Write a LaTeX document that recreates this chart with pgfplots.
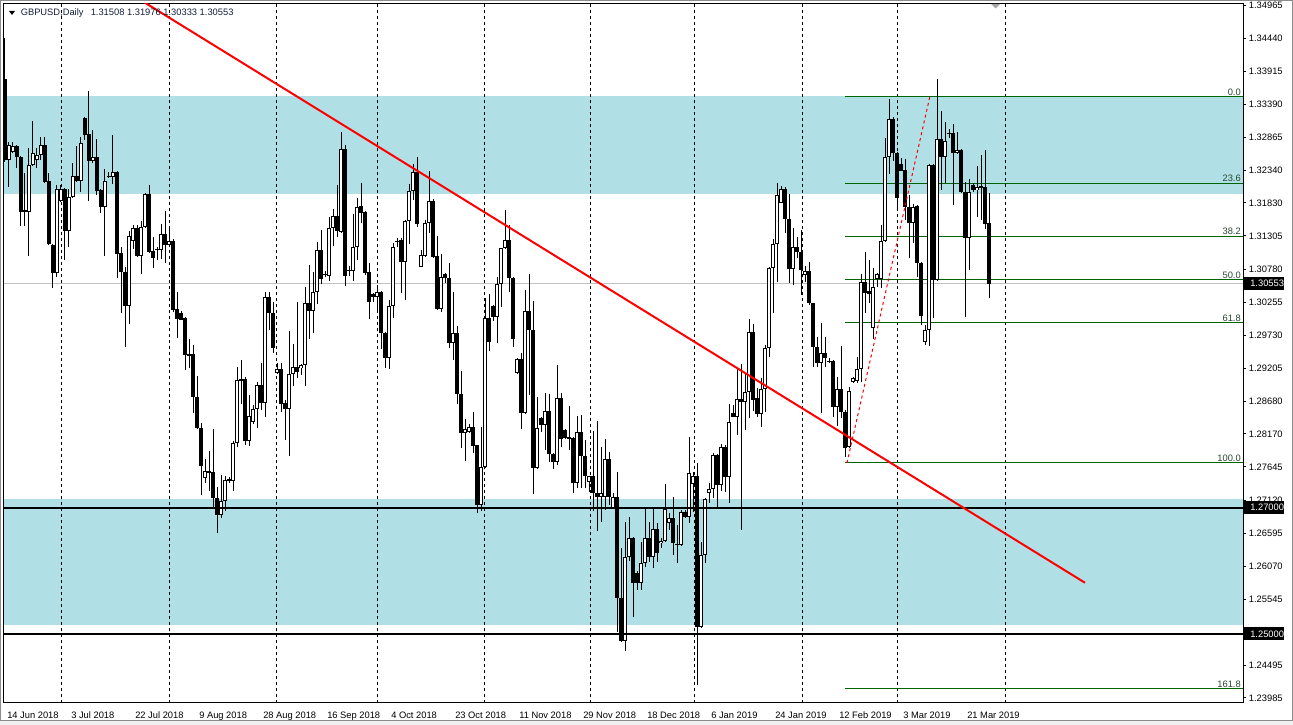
\documentclass[border=0pt]{standalone}
\usepackage{pgfplots}
\pgfplotsset{compat=1.18}
\usepackage{pgfplotstable}
\usepackage{fontspec}
\setmainfont{Liberation Sans}

\definecolor{band}{RGB}{176,224,230}
\definecolor{fibgreen}{RGB}{0,100,0}
\definecolor{fibtext}{RGB}{40,70,50}
\definecolor{titletext}{RGB}{20,30,60}
\definecolor{bidgray}{RGB}{192,192,192}

% daily bars, GBPUSD (bar index, open, high, low, close)
\pgfplotstableread{
i o h l c
0 1.3379 1.3444 1.3248 1.3251
1 1.3251 1.3279 1.3208 1.3275
2 1.3264 1.3279 1.3262 1.3273
3 1.3273 1.3275 1.3238 1.3256
4 1.3256 1.3258 1.3146 1.3169
5 1.3172 1.3230 1.3146 1.3169
6 1.3169 1.3270 1.3099 1.3243
7 1.3243 1.3313 1.3241 1.3262
8 1.3251 1.3270 1.3238 1.3259
9 1.3259 1.3287 1.3251 1.3275
10 1.3275 1.3287 1.3214 1.3216
11 1.3218 1.3230 1.3116 1.3118
12 1.3117 1.3118 1.3048 1.3072
13 1.3072 1.3211 1.3066 1.3205
14 1.3186 1.3211 1.3184 1.3205
15 1.3205 1.3207 1.3093 1.3138
16 1.3138 1.3205 1.3113 1.3192
17 1.3192 1.3246 1.3190 1.3226
18 1.3226 1.3273 1.3216 1.3218
19 1.3218 1.3287 1.3200 1.3278
20 1.3317 1.3319 1.3283 1.3290
21 1.3292 1.3360 1.3186 1.3249
22 1.3249 1.3298 1.3247 1.3256
23 1.3256 1.3284 1.3195 1.3202
24 1.3203 1.3205 1.3167 1.3176
25 1.3176 1.3237 1.3099 1.3218
26 1.3226 1.3232 1.3222 1.3225
27 1.3224 1.3290 1.3213 1.3232
28 1.3232 1.3234 1.3064 1.3102
29 1.3104 1.3113 1.3008 1.3073
30 1.3073 1.3081 1.2955 1.3020
31 1.3020 1.3138 1.2991 1.3130
32 1.3123 1.3148 1.3110 1.3143
33 1.3143 1.3148 1.3097 1.3099
34 1.3099 1.3154 1.3070 1.3145
35 1.3145 1.3199 1.3143 1.3197
36 1.3197 1.3211 1.3103 1.3105
37 1.3107 1.3129 1.3080 1.3096
38 1.3109 1.3113 1.3093 1.3110
39 1.3108 1.3149 1.3094 1.3134
40 1.3134 1.3170 1.3088 1.3116
41 1.3116 1.3146 1.3114 1.3123
42 1.3123 1.3126 1.3010 1.3013
43 1.3015 1.3042 1.2969 1.2999
44 1.3008 1.3011 1.2997 1.2998
45 1.3001 1.3003 1.2918 1.2942
46 1.2942 1.2967 1.2921 1.2943
47 1.2944 1.2958 1.2850 1.2875
48 1.2875 1.2909 1.2824 1.2826
49 1.2826 1.2834 1.2720 1.2766
50 1.2747 1.2777 1.2739 1.2758
51 1.2758 1.2790 1.2726 1.2756
52 1.2756 1.2825 1.2700 1.2715
53 1.2715 1.2733 1.2660 1.2689
54 1.2689 1.2752 1.2684 1.2711
55 1.2711 1.2750 1.2695 1.2744
56 1.2744 1.2749 1.2739 1.2745
57 1.2742 1.2805 1.2726 1.2803
58 1.2803 1.2923 1.2796 1.2902
59 1.2904 1.2934 1.2864 1.2901
60 1.2904 1.2907 1.2799 1.2806
61 1.2806 1.2879 1.2798 1.2845
62 1.2836 1.2863 1.2833 1.2856
63 1.2856 1.2899 1.2826 1.2894
64 1.2894 1.2929 1.2855 1.2866
65 1.2866 1.3042 1.2844 1.3034
66 1.3034 1.3042 1.2982 1.3008
67 1.3008 1.3026 1.2945 1.2953
68 1.2913 1.2929 1.2912 1.2920
69 1.2920 1.2929 1.2852 1.2864
70 1.2866 1.2871 1.2807 1.2856
71 1.2856 1.2980 1.2782 1.2912
72 1.2912 1.2959 1.2893 1.2923
73 1.2923 1.3026 1.2905 1.2915
74 1.2921 1.2928 1.2910 1.2926
75 1.2926 1.3050 1.2893 1.3024
76 1.3024 1.3085 1.2967 1.3012
77 1.3012 1.3073 1.2977 1.3042
78 1.3042 1.3121 1.3023 1.3108
79 1.3108 1.3140 1.3054 1.3062
80 1.3070 1.3075 1.3066 1.3069
81 1.3067 1.3161 1.3059 1.3143
82 1.3143 1.3173 1.3115 1.3162
83 1.3162 1.3211 1.3129 1.3138
84 1.3137 1.3295 1.3135 1.3268
85 1.3268 1.3275 1.3051 1.3067
86 1.3075 1.3083 1.3067 1.3077
87 1.3075 1.3165 1.3059 1.3113
88 1.3113 1.3191 1.3093 1.3176
89 1.3178 1.3215 1.3151 1.3167
90 1.3169 1.3170 1.3069 1.3072
91 1.3073 1.3088 1.2999 1.3026
92 1.3039 1.3040 1.3026 1.3034
93 1.3034 1.3053 1.3008 1.3042
94 1.3042 1.3043 1.2951 1.2977
95 1.2977 1.2978 1.2921 1.2937
96 1.2937 1.3029 1.2920 1.3020
97 1.3020 1.3119 1.3001 1.3113
98 1.3122 1.3127 1.3113 1.3123
99 1.3124 1.3127 1.3040 1.3089
100 1.3089 1.3156 1.3029 1.3154
101 1.3154 1.3213 1.3118 1.3202
102 1.3202 1.3245 1.3188 1.3232
103 1.3232 1.3256 1.3145 1.3149
104 1.3081 1.3108 1.3081 1.3100
105 1.3099 1.3156 1.3097 1.3151
106 1.3151 1.3233 1.3135 1.3186
107 1.3186 1.3189 1.3096 1.3097
108 1.3099 1.3130 1.3013 1.3015
109 1.3015 1.3102 1.3010 1.3066
110 1.3070 1.3072 1.3056 1.3064
111 1.3064 1.3088 1.2953 1.2961
112 1.2961 1.3042 1.2934 1.2977
113 1.2977 1.2988 1.2864 1.2880
114 1.2881 1.2917 1.2795 1.2818
115 1.2818 1.2841 1.2774 1.2825
116 1.2820 1.2833 1.2818 1.2828
117 1.2828 1.2852 1.2787 1.2798
118 1.2799 1.2800 1.2692 1.2704
119 1.2704 1.2828 1.2695 1.2765
120 1.2765 1.3032 1.2763 1.3001
121 1.3001 1.3039 1.2948 1.2963
122 1.3020 1.3021 1.2996 1.3002
123 1.3002 1.3066 1.2961 1.3054
124 1.3054 1.3112 1.3018 1.3111
125 1.3111 1.3172 1.3110 1.3124
126 1.3124 1.3148 1.3042 1.3064
127 1.3064 1.3066 1.2955 1.2967
128 1.2913 1.2937 1.2912 1.2936
129 1.2936 1.2945 1.2825 1.2850
130 1.2850 1.3045 1.2849 1.3012
131 1.3012 1.3070 1.2879 1.2982
132 1.2982 1.3027 1.2722 1.2763
133 1.2763 1.2875 1.2762 1.2826
134 1.2842 1.2843 1.2820 1.2831
135 1.2831 1.2882 1.2791 1.2853
136 1.2853 1.2880 1.2772 1.2785
137 1.2785 1.2786 1.2761 1.2772
138 1.2772 1.2926 1.2768 1.2874
139 1.2874 1.2882 1.2796 1.2809
140 1.2823 1.2824 1.2809 1.2810
141 1.2810 1.2861 1.2791 1.2811
142 1.2811 1.2812 1.2723 1.2739
143 1.2739 1.2845 1.2731 1.2820
144 1.2820 1.2847 1.2731 1.2782
145 1.2782 1.2807 1.2731 1.2750
146 1.2741 1.2751 1.2725 1.2750
147 1.2750 1.2822 1.2695 1.2723
148 1.2723 1.2837 1.2663 1.2717
149 1.2717 1.2796 1.2677 1.2723
150 1.2717 1.2809 1.2696 1.2777
151 1.2777 1.2788 1.2704 1.2717
152 1.2700 1.2723 1.2698 1.2717
153 1.2717 1.2756 1.2503 1.2557
154 1.2557 1.2636 1.2487 1.2489
155 1.2489 1.2677 1.2473 1.2622
156 1.2622 1.2685 1.2616 1.2652
157 1.2652 1.2653 1.2527 1.2581
158 1.2597 1.2600 1.2570 1.2581
159 1.2581 1.2646 1.2570 1.2612
160 1.2612 1.2700 1.2606 1.2652
161 1.2652 1.2677 1.2614 1.2622
162 1.2622 1.2701 1.2604 1.2666
163 1.2666 1.2676 1.2614 1.2628
164 1.2644 1.2652 1.2636 1.2647
165 1.2647 1.2738 1.2645 1.2698
166 1.2676 1.2692 1.2665 1.2684
167 1.2684 1.2717 1.2625 1.2644
168 1.2643 1.2673 1.2612 1.2641
169 1.2641 1.2696 1.2639 1.2693
170 1.2693 1.2696 1.2684 1.2685
171 1.2685 1.2812 1.2676 1.2755
172 1.2738 1.2756 1.2693 1.2750
173 1.2750 1.2771 1.2419 1.2511
174 1.2511 1.2646 1.2509 1.2625
175 1.2625 1.2715 1.2612 1.2714
176 1.2723 1.2739 1.2707 1.2730
177 1.2730 1.2787 1.2715 1.2784
178 1.2784 1.2785 1.2701 1.2736
179 1.2736 1.2801 1.2726 1.2796
180 1.2796 1.2799 1.2725 1.2749
181 1.2749 1.2864 1.2707 1.2836
182 1.2850 1.2863 1.2844 1.2844
183 1.2844 1.2920 1.2815 1.2872
184 1.2872 1.2928 1.2665 1.2867
185 1.2867 1.2913 1.2823 1.2883
186 1.2883 1.2999 1.2842 1.2978
187 1.2978 1.2991 1.2853 1.2871
188 1.2874 1.2890 1.2844 1.2848
189 1.2848 1.2905 1.2828 1.2888
190 1.2888 1.2958 1.2852 1.2953
191 1.2953 1.3081 1.2939 1.3080
192 1.3080 1.3126 1.3008 1.3118
193 1.3118 1.3215 1.3058 1.3195
194 1.3183 1.3210 1.3182 1.3205
195 1.3205 1.3208 1.3135 1.3157
196 1.3157 1.3197 1.3056 1.3078
197 1.3078 1.3143 1.3053 1.3113
198 1.3113 1.3129 1.3096 1.3105
199 1.3105 1.3140 1.3037 1.3077
200 1.3069 1.3083 1.3058 1.3075
201 1.3075 1.3089 1.3022 1.3024
202 1.3024 1.3025 1.2923 1.2955
203 1.2955 1.2970 1.2923 1.2929
204 1.2929 1.2993 1.2850 1.2945
205 1.2945 1.2970 1.2923 1.2937
206 1.2932 1.2937 1.2929 1.2933
207 1.2932 1.2934 1.2844 1.2860
208 1.2860 1.2907 1.2829 1.2888
209 1.2888 1.2956 1.2842 1.2852
210 1.2852 1.2855 1.2780 1.2795
211 1.2796 1.2891 1.2795 1.2885
212 1.2900 1.2907 1.2897 1.2905
213 1.2900 1.2939 1.2897 1.2920
214 1.2920 1.3070 1.2899 1.3058
215 1.3058 1.3105 1.3008 1.3040
216 1.3043 1.3093 1.3024 1.3039
217 1.2985 1.3080 1.2967 1.3050
218 1.3062 1.3072 1.3050 1.3070
219 1.3062 1.3148 1.3048 1.3123
220 1.3123 1.3286 1.3121 1.3256
221 1.3256 1.3348 1.3229 1.3316
222 1.3316 1.3319 1.3249 1.3262
223 1.3262 1.3264 1.3170 1.3191
224 1.3245 1.3254 1.3233 1.3233
225 1.3235 1.3252 1.3156 1.3176
226 1.3176 1.3195 1.3096 1.3151
227 1.3151 1.3181 1.3119 1.3176
228 1.3178 1.3180 1.3066 1.3088
229 1.3088 1.3089 1.2989 1.3004
230 1.2963 1.2989 1.2958 1.2982
231 1.2982 1.3245 1.2956 1.3243
232 1.3243 1.3245 1.3001 1.3061
233 1.3061 1.3379 1.3059 1.3284
234 1.3284 1.3329 1.3203 1.3256
235 1.3256 1.3311 1.3215 1.3281
236 1.3294 1.3300 1.3286 1.3292
237 1.3294 1.3308 1.3180 1.3262
238 1.3262 1.3295 1.3261 1.3267
239 1.3267 1.3268 1.3199 1.3200
240 1.3200 1.3216 1.3002 1.3127
241 1.3127 1.3221 1.3077 1.3200
242 1.3211 1.3215 1.3200 1.3203
243 1.3203 1.3241 1.3161 1.3208
244 1.3210 1.3259 1.3156 1.3207
245 1.3208 1.3267 1.3141 1.3149
246 1.3151 1.3198 1.3033 1.3055
}\candles

\pgfplotsset{
  candle/.style={draw=none, mark=none,
    error bars/y dir=both, error bars/y explicit,
    error bars/error mark=none, error bars/error mark options={draw=none, fill=none}},
}
\tikzset{lbl/.style={font=\fontsize{7}{8}\selectfont}}

\begin{document}
\begin{tikzpicture}
\begin{axis}[
  scale only axis, width=929.25pt, height=524.25pt,
  xmin=-0.25, xmax=309.5, ymin=1.23905, ymax=1.34981,
  clip mode=individual,
  axis line style={line width=0.75pt},
  ytick pos=right, yticklabel pos=right,
  tick align=outside, major tick length=2.25pt,
  y tick style={black, line width=0.75pt},
  x tick style={draw=none},
  xtick={0,16,...,240},
  xticklabels={14 Jun 2018,3 Jul 2018,22 Jul 2018,9 Aug 2018,28 Aug 2018,16 Sep 2018,4 Oct 2018,23 Oct 2018,11 Nov 2018,29 Nov 2018,18 Dec 2018,6 Jan 2019,24 Jan 2019,12 Feb 2019,3 Mar 2019,21 Mar 2019},
  xticklabel style={lbl, anchor=north west, inner sep=0pt, xshift=1.5pt, yshift=-4pt},
  ytick={1.34965,1.34440,1.33915,1.33390,1.32865,1.32340,1.31830,1.31305,1.30780,1.30255,1.29730,1.29205,1.28680,1.28170,1.27645,1.27120,1.26595,1.26070,1.25545,1.24495,1.23985},
  yticklabels={1.34965,1.34440,1.33915,1.33390,1.32865,1.32340,1.31830,1.31305,1.30780,1.30255,1.29730,1.29205,1.28680,1.28170,1.27645,1.27120,1.26595,1.26070,1.25545,1.24495,1.23985},
  yticklabel style={lbl, anchor=west, inner sep=0pt, xshift=2pt},
]
% zones
\addplot[draw=none, fill=band] coordinates {(-0.25,1.3352) (309.5,1.3352) (309.5,1.3197) (-0.25,1.3197)} -- cycle;
\addplot[draw=none, fill=band] coordinates {(-0.25,1.2714) (309.5,1.2714) (309.5,1.2514) (-0.25,1.2514)} -- cycle;

% vertical grid
\pgfplotsinvokeforeach{14.25,41,67.75,93,119.75,146.25,172.25,199.25,223,250}{
  \addplot[black, line width=0.75pt, dash pattern=on 2.25pt off 2.25pt] coordinates {(#1,1.2390) (#1,1.3499)};
}

% bid line
\addplot[bidgray, line width=0.75pt] coordinates {(-0.25,1.30553) (309.5,1.30553)};

% fibonacci levels
\pgfplotsinvokeforeach{1.3351,1.3214,1.3130,1.3061,1.2993,1.2771,1.2413}{
  \addplot[fibgreen, line width=0.75pt] coordinates {(210,#1) (309.5,#1)};
}
\node[lbl, text=fibtext, anchor=south east, inner sep=0pt, xshift=-1.5pt, yshift=1pt] at (axis cs:309.5,1.3351) {0.0};
\node[lbl, text=fibtext, anchor=south east, inner sep=0pt, xshift=-1.5pt, yshift=1pt] at (axis cs:309.5,1.3214) {23.6};
\node[lbl, text=fibtext, anchor=south east, inner sep=0pt, xshift=-1.5pt, yshift=1pt] at (axis cs:309.5,1.3130) {38.2};
\node[lbl, text=fibtext, anchor=south east, inner sep=0pt, xshift=-1.5pt, yshift=1pt] at (axis cs:309.5,1.3061) {50.0};
\node[lbl, text=fibtext, anchor=south east, inner sep=0pt, xshift=-1.5pt, yshift=1pt] at (axis cs:309.5,1.2993) {61.8};
\node[lbl, text=fibtext, anchor=south east, inner sep=0pt, xshift=-1.5pt, yshift=1pt] at (axis cs:309.5,1.2771) {100.0};
\node[lbl, text=fibtext, anchor=south east, inner sep=0pt, xshift=-1.5pt, yshift=1pt] at (axis cs:309.5,1.2413) {161.8};

% candles: wicks, bodies, hollow bullish bodies
\addplot[candle, error bars/error bar style={draw=black, solid, line width=0.75pt}]
  table[x=i, y expr={(\thisrow{h}+\thisrow{l})/2}, y error expr={(\thisrow{h}-\thisrow{l})/2}] {\candles};
\addplot[candle, error bars/error bar style={draw=black, solid, line width=2.4pt}]
  table[x=i, y expr={(\thisrow{o}+\thisrow{c})/2}, y error expr={max(abs(\thisrow{c}-\thisrow{o})/2,0.00008)}] {\candles};
\addplot[restrict expr to domain={\thisrow{c}-\thisrow{o}}{0.0003:1}, candle, error bars/error bar style={draw=white, solid, line width=0.9pt}]
  table[x=i, y expr={(\thisrow{o}+\thisrow{c})/2}, y error expr={(\thisrow{c}-\thisrow{o})/2-0.00016}] {\candles};

% levels 1.27 / 1.25
\addplot[black, line width=1.5pt] coordinates {(-0.25,1.27) (309.5,1.27)};
\addplot[black, line width=1.5pt] coordinates {(-0.25,1.25) (309.5,1.25)};

% trend line and fibo base line
\addplot[red, line width=1.5pt] coordinates {(34,1.3504) (270,1.2581)};
\addplot[red, line width=0.75pt, dash pattern=on 2.25pt off 2.25pt] coordinates {(210.5,1.2771) (231.2,1.3351)};

% price boxes
\node[lbl, fill=black, text=white, anchor=west, inner xsep=0pt, inner ysep=0pt, minimum height=9.75pt, xshift=0.75pt] at (axis cs:309.5,1.30553) {\hspace{4.5pt}1.30553\hspace{5pt}};
\node[lbl, fill=black, text=white, anchor=west, inner xsep=0pt, inner ysep=0pt, minimum height=9.75pt, xshift=0.75pt] at (axis cs:309.5,1.27000) {\hspace{4.5pt}1.27000\hspace{5pt}};
\node[lbl, fill=black, text=white, anchor=west, inner xsep=0pt, inner ysep=0pt, minimum height=9.75pt, xshift=0.75pt] at (axis cs:309.5,1.25000) {\hspace{4.5pt}1.25000\hspace{5pt}};
\end{axis}

% window frame, title line and page size, all from the plot corners
\fill[black!6] ([shift={(-3pt,-13.5pt)}]current axis.south west) rectangle ([shift={(37.5pt,-16.5pt)}]current axis.south east);
\draw[black!45, line width=0.75pt] ([shift={(-2.625pt,-13.125pt)}]current axis.south west) rectangle ([shift={(37.125pt,2.625pt)}]current axis.north east);
\fill[black] ([shift={(3.75pt,-5.25pt)}]current axis.north west) -- ++(4.5pt,0) -- ++(-2.25pt,-3pt) -- cycle;
\node[lbl, text=titletext, anchor=base west, inner sep=0pt] at ([shift={(12.375pt,-9pt)}]current axis.north west) {GBPUSD,Daily};
\node[lbl, text=titletext, anchor=base west, inner sep=0pt] at ([shift={(64.875pt,-9pt)}]current axis.north west) {1.31508 1.31976 1.30333 1.30553};
\fill[black!35] ([shift={(740.25pt,0pt)}]current axis.north west) -- ++(6.75pt,0) -- ++(-3.375pt,-3.375pt) -- cycle;
\pgfresetboundingbox
\path[use as bounding box] ([shift={(-3pt,-16.5pt)}]current axis.south west) rectangle ([shift={(37.5pt,3pt)}]current axis.north east);
\end{tikzpicture}
\end{document}
